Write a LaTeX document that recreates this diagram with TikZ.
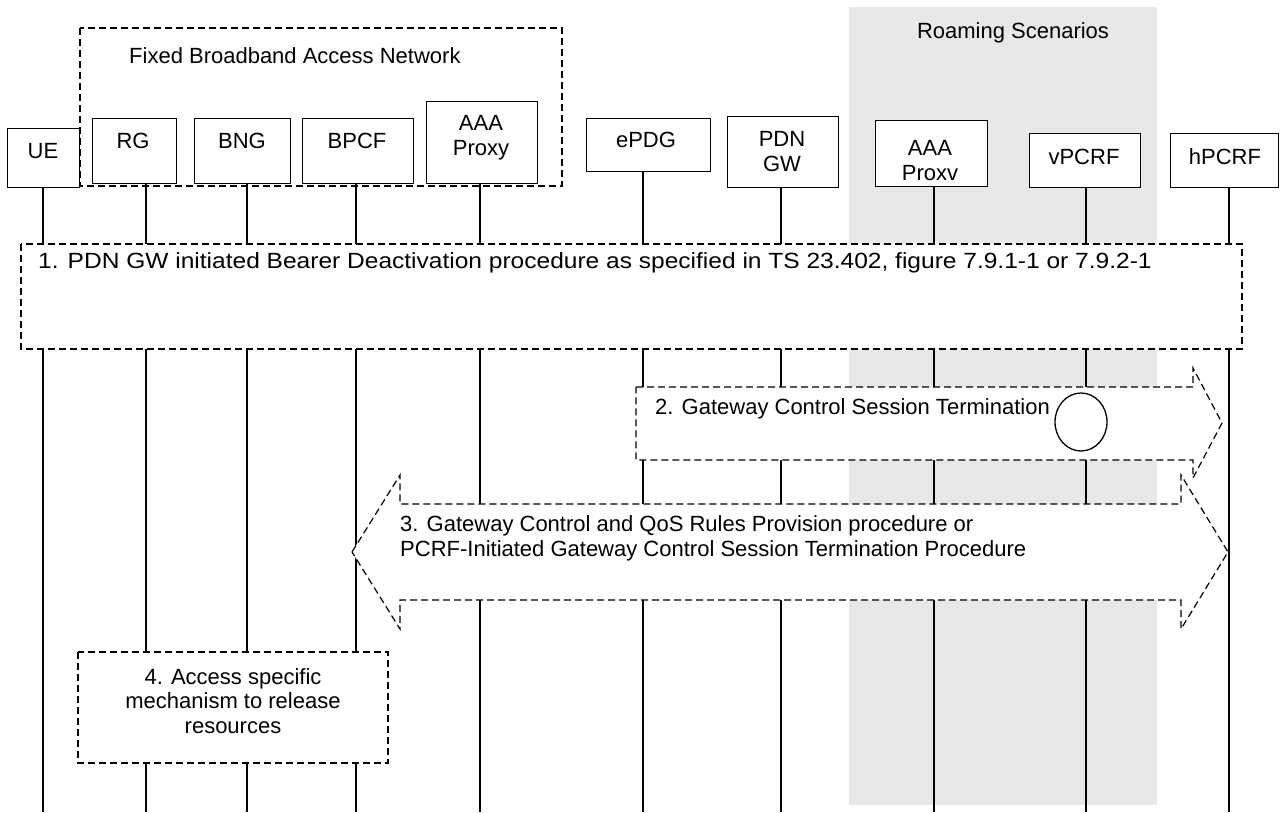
\documentclass[tikz,border=0pt]{standalone}
\usepackage{fontspec}
\setmainfont{Liberation Sans}
\usepackage{graphicx}
\definecolor{roam}{RGB}{232,232,232}
\begin{document}
\begin{tikzpicture}[x=1pt,y=-1pt,
  every node/.style={font=\fontsize{22}{24.5}\selectfont},
  ent/.style={draw, line width=1.3pt, fill=white, anchor=north west, inner sep=0pt},
  txt/.style={anchor=base, inner sep=0pt, align=center},
  ltxt/.style={anchor=base west, inner sep=0pt, align=left},
  life/.style={line width=1.3pt},
  dsh/.style={draw, line width=1.2pt, dash pattern=on 7pt off 4pt},
  dshw/.style={dsh, fill=white},
]
% canvas
\fill[white] (0,0) rectangle (1280,812);
\useasboundingbox (0,0) rectangle (1280,812);
% roaming area
\fill[roam] (849,7) rectangle (1157,805);
\node[txt] (roamt) at (1013,38) {Roaming Scenarios};

% lifeline feet
\coordinate (lue) at (43,812);
\coordinate (lrg) at (146,812);
\coordinate (lbng) at (247,812);
\coordinate (lbpcf) at (356,812);
\coordinate (laaap) at (480,812);
\coordinate (lepdg) at (643,812);
\coordinate (lpgw) at (781,812);
\coordinate (laaav) at (934,812);
\coordinate (lvpcrf) at (1086,812);
\coordinate (lhpcrf) at (1229,812);

% entity boxes
\node[ent, minimum width=72pt, minimum height=59pt] (ue) at (7,128) {};
\node[ent, minimum width=84pt, minimum height=65pt] (rg) at (92,118) {};
\node[ent, minimum width=96pt, minimum height=65pt] (bng) at (194,118) {};
\node[ent, minimum width=111pt, minimum height=65pt] (bpcf) at (302,118) {};
\node[ent, minimum width=111pt, minimum height=82pt] (aaap) at (426,101) {};
\node[ent, minimum width=124pt, minimum height=53pt] (epdg) at (586,118) {};
\node[ent, minimum width=111pt, minimum height=71pt] (pgw) at (727,116) {};
\node[ent, minimum width=112pt, minimum height=66pt] (aaav) at (875,120) {};
\node[ent, minimum width=111pt, minimum height=54pt] (vpcrf) at (1029,133) {};
\node[ent, minimum width=108pt, minimum height=54pt] (hpcrf) at (1170,133) {};

% lifelines
\draw[life] (ue.south -| lue) -- (lue);
\draw[life] (rg.south -| lrg) -- (lrg);
\draw[life] (bng.south -| lbng) -- (lbng);
\draw[life] (bpcf.south -| lbpcf) -- (lbpcf);
\draw[life] (aaap.south -| laaap) -- (laaap);
\draw[life] (epdg.south -| lepdg) -- (lepdg);
\draw[life] (pgw.south -| lpgw) -- (lpgw);
\draw[life] (aaav.south -| laaav) -- (laaav);
\draw[life] (vpcrf.south -| lvpcrf) -- (lvpcrf);
\draw[life] (hpcrf.south -| lhpcrf) -- (lhpcrf);

% entity labels (base = last line)
\node[txt] (uet) at (43,158) {UE};
\node[txt] (rgt) at (133,148) {RG};
\node[txt] (bngt) at (242,148) {BNG};
\node[txt] (bpcft) at (357,148) {BPCF};
\node[txt] (aaapt) at (481,155) {AAA\\Proxy};
\node[txt] (epdgt) at (646,147) {ePDG};
\node[txt] (pgwt) at (782,171) {PDN\\GW};
\node[txt] (aaavt) at (930,180) {AAA\\Proxv};
\node[txt] (vpcrft) at (1084,164) {vPCRF};
\node[txt] (hpcrft) at (1225,164) {hPCRF};

% fixed broadband access network
\draw[dsh] (80,28) rectangle (562,186);
\node[ltxt] (fbant) at (129,63) {Fixed Broadband Access Network};

% step 1
\draw[dshw] (21,244) rectangle (1242,349);
\node[ltxt] (s1) at (38,268) {\scalebox{1.115}[1]{1. PDN GW initiated Bearer Deactivation procedure as specified in TS 23.402, figure 7.9.1-1 or 7.9.2-1}};

% step 2 arrow
\draw[dshw] (636,387) -- (1193,387) -- (1193,368) -- (1222,423) -- (1193,478) -- (1193,460) -- (636,460) -- cycle;
\node[ltxt] (s2) at (655,414) {2. Gateway Control Session Termination};
\draw[line width=1.3pt] (1081,422) ellipse [x radius=26, y radius=29];

% step 3 double arrow
\draw[dshw] (352,552) -- (400,475) -- (400,504) -- (1181,504) -- (1181,475) -- (1228,552) -- (1181,629) -- (1181,600) -- (400,600) -- (400,629) -- cycle;
\node[ltxt] (s3) at (400,556) {3. Gateway Control and QoS Rules Provision procedure or\\PCRF-Initiated Gateway Control Session Termination Procedure};

% step 4
\draw[dshw] (78,652) rectangle (388,763);
\node[txt] (s4) at (233,733) {4. Access specific\\mechanism to release\\resources};
\end{tikzpicture}
\end{document}
